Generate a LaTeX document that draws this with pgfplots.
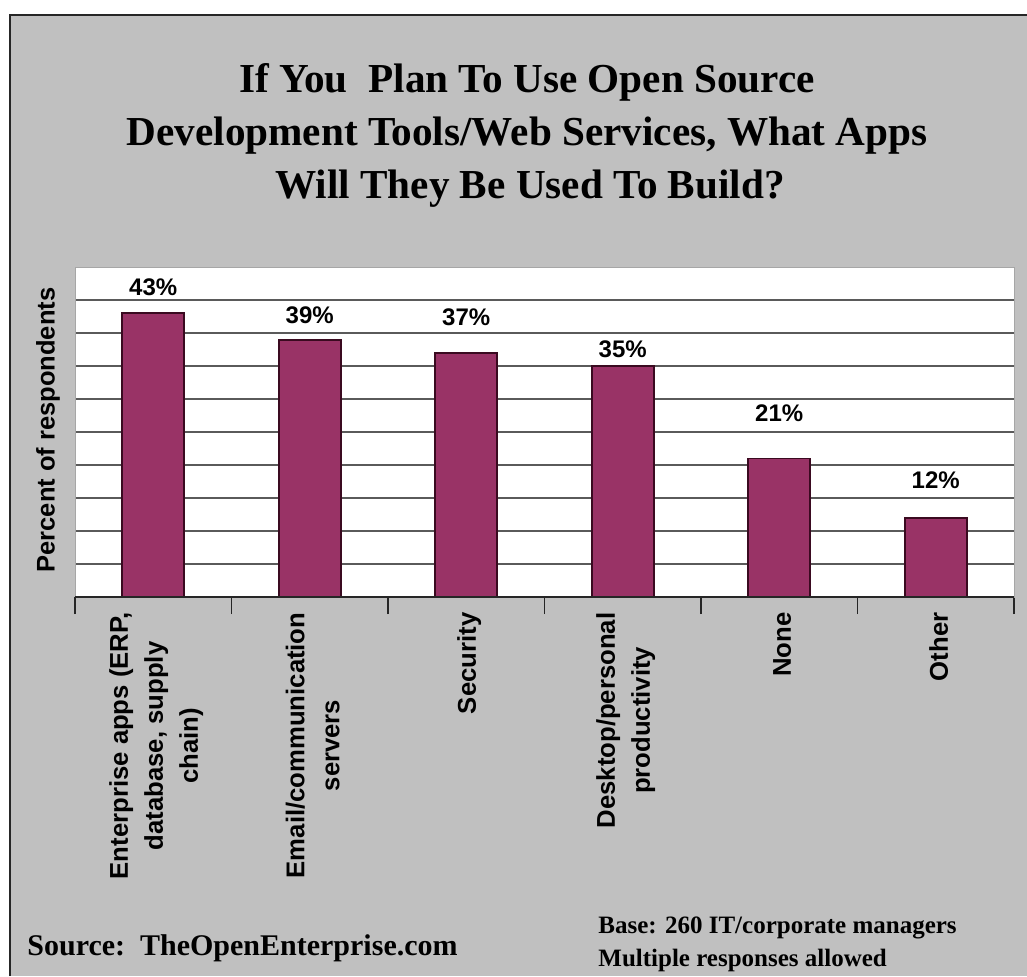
\documentclass[border=0pt]{standalone}
\usepackage{pgfplots}
\pgfplotsset{compat=1.18}
\usepackage{fontspec}
\setmainfont{Liberation Serif}
\setsansfont{Liberation Sans}
\definecolor{bggray}{HTML}{C0C0C0}
\definecolor{plum}{HTML}{993366}
\definecolor{barline}{HTML}{3A0A20}
\definecolor{gridc}{HTML}{5A5A5A}
\begin{document}
\begin{tikzpicture}[x=0.5pt,y=0.5pt]
\useasboundingbox (0,0) rectangle (1027,976);
\fill[white] (0,0) rectangle (1027,976);
\fill[bggray] (10,0) rectangle (1027,961);
\draw[line width=1pt,black!85] (10,0) -- (10,961) -- (1027,961);
\begin{axis}[
  at={(37.5pt,189.5pt)}, anchor=south west,
  width=469.5pt, height=165pt, scale only axis,
  xmin=0.5, xmax=6.5, ymin=0, ymax=50,
  axis background/.style={fill=white},
  axis line style={draw=gray!70, line width=0.4pt},
  ytick={5,10,...,45}, yticklabels={}, ymajorgrids,
  major grid style={draw=gridc, line width=0.9pt},
  major y tick style={draw=none},
  xtick={1,...,6}, xtick pos=bottom, ytick pos=left,
  major x tick style={draw=none},
  minor xtick={0.5,1.5,...,6.5},
  minor tick length=8.5pt, tick align=center,
  minor x tick style={draw=black!85, line width=0.7pt},
  xticklabels={{Enterprise apps (ERP,\\database, supply\\chain)}, {Email/communication\\servers}, Security, {Desktop/personal\\productivity}, None, Other},
  xticklabel style={rotate=90, anchor=east, align=center, yshift=-1.5pt, font=\sffamily\bfseries\fontsize{12.85}{17.5}\selectfont},
  ybar, bar width=31pt,
  clip=false,
  after end axis/.code={\draw[black!85, line width=1pt] (rel axis cs:0,0) -- (rel axis cs:1,0);},
]
\addplot[fill=plum, draw=barline, line width=0.9pt] coordinates {(1,43) (2,39) (3,37) (4,35) (5,21) (6,12)};
\begin{scope}[every node/.style={font=\sffamily\bfseries\fontsize{12}{14}\selectfont}]
\node at (axis cs:1,47.0) {43\%};
\node at (axis cs:2,42.7) {39\%};
\node at (axis cs:3,42.4) {37\%};
\node at (axis cs:4,37.6) {35\%};
\node at (axis cs:5,27.9) {21\%};
\node at (axis cs:6,17.7) {12\%};
\end{scope}
\end{axis}
\node[rotate=90, font=\sffamily\bfseries\fontsize{12.75}{15}\selectfont] at (48,546) {Percent of respondents};
\begin{scope}[every node/.style={anchor=base, font=\bfseries\fontsize{20.6}{26.5}\selectfont}]
\node at (527,883) {If You\ \ Plan To Use Open Source};
\node at (527,830) {Development Tools/Web Services, What Apps};
\node at (530,777) {Will They Be Used To Build?};
\end{scope}
\node[anchor=base west, inner sep=0pt, font=\bfseries\fontsize{15}{18}\selectfont] at (27,21) {Source:\ \ TheOpenEnterprise.com};
\node[anchor=base west, inner sep=0pt, font=\bfseries\fontsize{12.5}{15}\selectfont] at (598,43) {Base: 260 IT/corporate managers};
\node[anchor=base west, inner sep=0pt, font=\bfseries\fontsize{12.5}{15}\selectfont] at (598,10) {Multiple responses allowed};
\end{tikzpicture}
\end{document}
